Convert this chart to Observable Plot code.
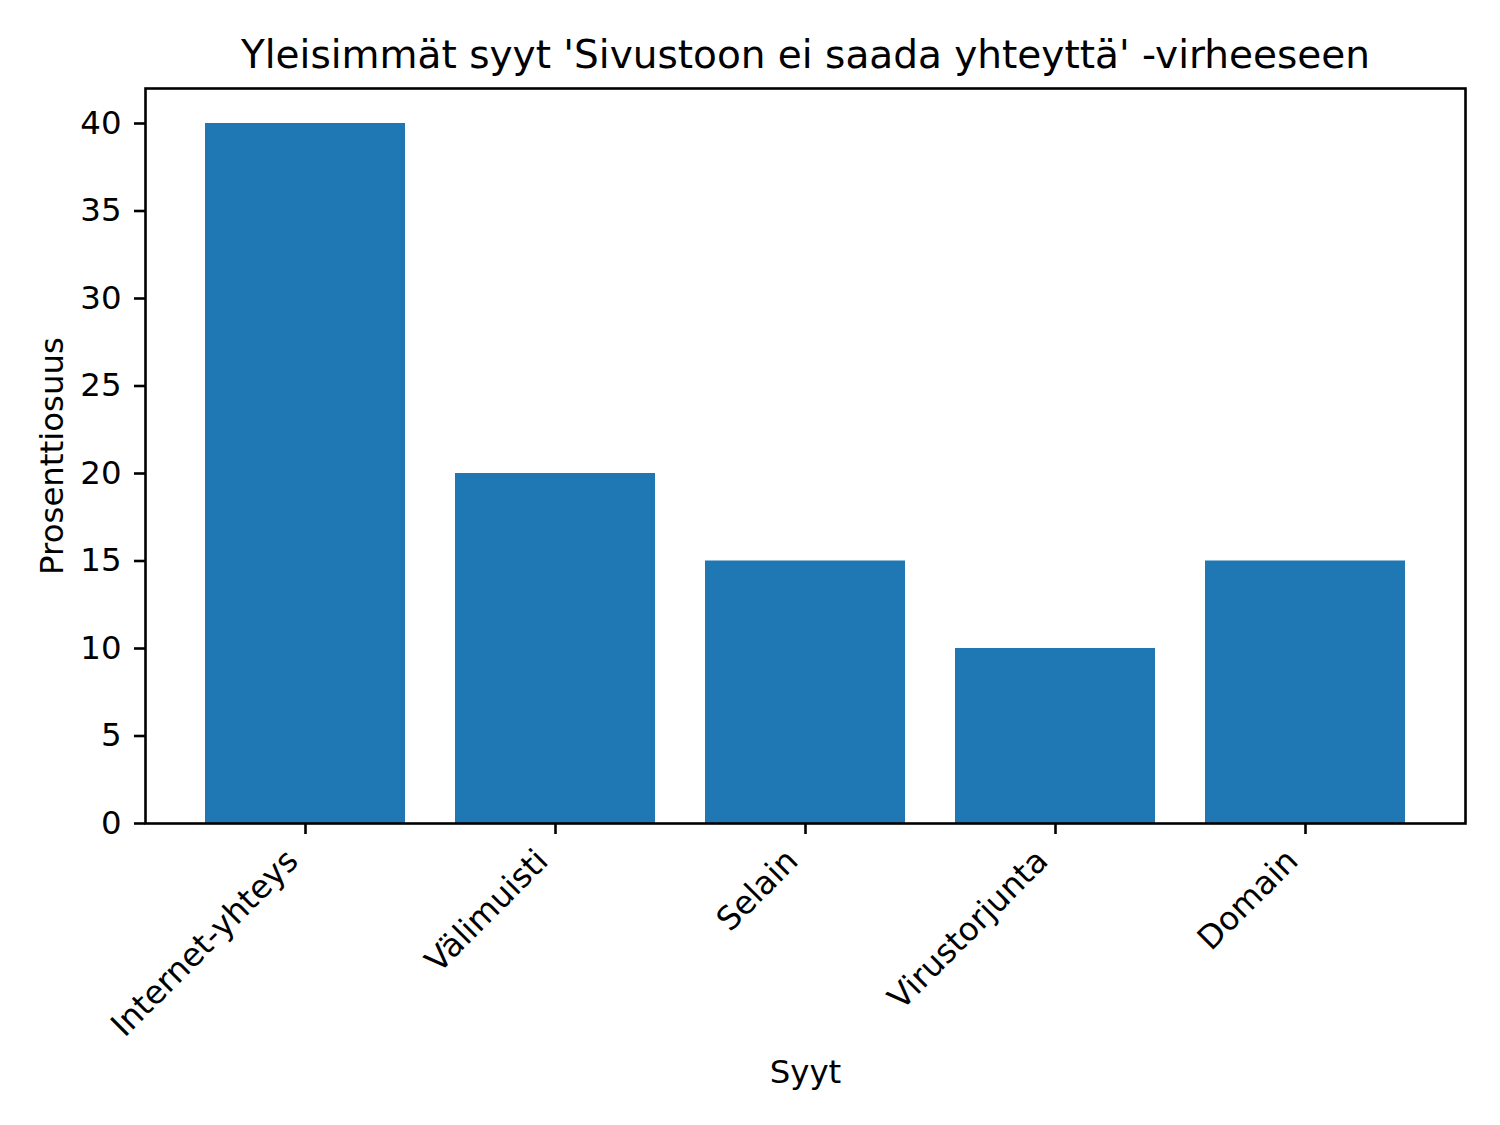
<!DOCTYPE html>
<html>
<head>
<meta charset="utf-8">
<script src="https://cdn.jsdelivr.net/npm/d3@7"></script>
<script src="https://cdn.jsdelivr.net/npm/@observablehq/plot@0.6"></script>
<style>
  html, body { margin: 0; padding: 0; background: #ffffff; }
  #chart svg { display: block; }
</style>
</head>
<body>
<div id="chart"></div>
<script>
const causes = ["Internet-yhteys", "Välimuisti", "Selain", "Virustorjunta", "Domain"];
const shares = [40, 20, 15, 10, 15];
const yTicks = [0, 5, 10, 15, 20, 25, 30, 35, 40];
const titleText = "Yleisimmät syyt 'Sivustoon ei saada yhteyttä' -virheeseen";
const xLabel = "Syyt";
const yLabel = "Prosenttiosuus";

const data = causes.map((c, i) => ({cause: c, value: shares[i]}));
const font = "DejaVu Sans, sans-serif";
const tickFont = 32.4;

const chart = Plot.plot({
  width: 1500,
  height: 1125,
  marginLeft: 145,
  marginRight: 35,
  marginTop: 88,
  marginBottom: 302,
  style: {fontFamily: font, background: "#ffffff", color: "#000000"},
  x: {domain: causes, paddingInner: 0.2, paddingOuter: 0.24, align: 0.5, label: null},
  y: {domain: [0, 42], label: null},
  marks: [
    Plot.barY(data, {x: "cause", y: "value", fill: "#1f77b4", inset: 0}),
    Plot.frame({stroke: "#000000", strokeWidth: 2.6}),
    Plot.axisY({ticks: yTicks, tickSize: 11, tickPadding: 13, strokeWidth: 2.6, fontSize: tickFont, label: null}),
    Plot.axisX({tickSize: 11, strokeWidth: 2.6, tickFormat: () => "", label: null}),
    Plot.axisX({tickSize: 0, tickPadding: 32, tickRotate: -45, textAnchor: "end", dx: -13, fontSize: tickFont, label: null}),
    Plot.text([titleText], {frameAnchor: "top", lineAnchor: "middle", textAnchor: "middle", dy: -33, fontSize: 39, fill: "#000000"}),
    Plot.text([xLabel], {frameAnchor: "bottom", lineAnchor: "middle", textAnchor: "middle", dy: 249, fontSize: tickFont, fill: "#000000"}),
    Plot.text([yLabel], {frameAnchor: "left", lineAnchor: "middle", textAnchor: "middle", dx: -93, rotate: -90, fontSize: tickFont, fill: "#000000"})
  ]
});
document.getElementById("chart").appendChild(chart);
</script>
</body>
</html>
